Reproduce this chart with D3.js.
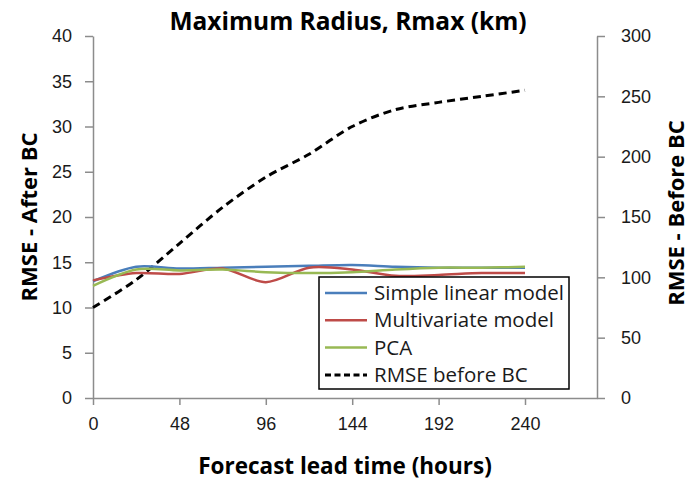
<!DOCTYPE html>
<html>
<head>
<meta charset="utf-8">
<script src="https://cdn.jsdelivr.net/npm/d3@7"></script>
<style>
  body { margin: 0; background: #fff; }
  svg { font-family: "Open Sans", "Noto Sans", sans-serif; }
</style>
</head>
<body>
<div id="chart"></div>
<script>
// lead times (hours) and RMSE values
const hours = [0, 24, 48, 72, 96, 120, 144, 168, 192, 216, 240];
const simpleLinear = [12.9, 14.5, 14.3, 14.4, 14.5, 14.6, 14.7, 14.5, 14.4, 14.4, 14.4];
const multivariate = [13.0, 13.8, 13.7, 14.3, 12.8, 14.4, 14.2, 13.5, 13.6, 13.8, 13.8];
const pca = [12.4, 14.2, 14.1, 14.2, 13.9, 13.8, 13.9, 14.2, 14.4, 14.4, 14.5];
const beforeBC = [75, 98, 128, 158, 183, 202, 225, 239, 245, 250, 255];

const xTicks = [0, 48, 96, 144, 192, 240];
const leftTicks = [0, 5, 10, 15, 20, 25, 30, 35, 40];
const rightTicks = [0, 50, 100, 150, 200, 250, 300];

const width = 692, height = 479;
const margin = { top: 36, right: 95, bottom: 81, left: 93 };
const innerWidth = width - margin.left - margin.right;
const innerHeight = height - margin.top - margin.bottom;

const svg = d3.select("#chart")
    .append("svg")
    .attr("width", width)
    .attr("height", height);

const g = svg.append("g")
    .attr("transform", `translate(${margin.left},${margin.top})`);

const x = d3.scaleLinear().domain([0, 280]).range([0, innerWidth]);
const yLeft = d3.scaleLinear().domain([0, 40]).range([innerHeight, 0]);
const yRight = d3.scaleLinear().domain([0, 300]).range([innerHeight, 0]);

// axes
const axisColor = "#8c8c8c";
const textColor = "#1a1a1a";

function styleAxis(sel) {
    sel.select(".domain").attr("stroke", axisColor).attr("stroke-width", 1.5);
    sel.selectAll(".tick line").attr("stroke", axisColor).attr("stroke-width", 1.5);
    sel.selectAll(".tick text")
        .style("font-size", "18px")
        .attr("fill", textColor);
}

g.append("g")
    .attr("transform", `translate(0,${innerHeight})`)
    .call(d3.axisBottom(x).tickValues(xTicks).tickSize(7).tickSizeOuter(0).tickPadding(12))
    .call(styleAxis);

g.append("g")
    .call(d3.axisLeft(yLeft).tickValues(leftTicks).tickSize(8).tickSizeOuter(0).tickPadding(13))
    .call(styleAxis);

g.append("g")
    .attr("transform", `translate(${innerWidth},0)`)
    .call(d3.axisRight(yRight).tickValues(rightTicks).tickSize(8).tickSizeOuter(0).tickPadding(16))
    .call(styleAxis);

// series
const series = [
    { name: "Simple linear model", values: simpleLinear, scale: yLeft, color: "#4a7ebb", dash: null, width: 2.5 },
    { name: "Multivariate model", values: multivariate, scale: yLeft, color: "#be4b48", dash: null, width: 2.5 },
    { name: "PCA", values: pca, scale: yLeft, color: "#98b954", dash: null, width: 2.5 },
    { name: "RMSE before BC", values: beforeBC, scale: yRight, color: "#000000", dash: "8,5", width: 3 }
];

const drawOrder = [series[3], series[0], series[1], series[2]];

drawOrder.forEach(s => {
    g.append("path")
        .datum(hours.map((h, i) => ({ h: h, v: s.values[i] })))
        .attr("fill", "none")
        .attr("stroke", s.color)
        .attr("stroke-width", s.width)
        .attr("stroke-dasharray", s.dash)
        .attr("d", d3.line()
            .curve(d3.curveCardinal.tension(0.1))
            .x(d => x(d.h))
            .y(d => s.scale(d.v))
        );
});

// legend
const legend = svg.append("g").attr("transform", "translate(319,277)");
legend.append("rect")
    .attr("width", 250)
    .attr("height", 112)
    .attr("fill", "#fff")
    .attr("stroke", "#000")
    .attr("stroke-width", 1.5);

series.forEach((s, i) => {
    const yy = 16 + i * 27.3;
    legend.append("line")
        .attr("x1", 6).attr("x2", 48)
        .attr("y1", yy).attr("y2", yy)
        .attr("stroke", s.color)
        .attr("stroke-width", s.width)
        .attr("stroke-dasharray", s.dash ? "6,3.5" : null);
    legend.append("text")
        .attr("x", 55)
        .attr("y", yy)
        .attr("dy", "0.35em")
        .style("font-size", "20.5px")
        .attr("fill", textColor)
        .text(s.name);
});

// titles
svg.append("text")
    .attr("x", 348)
    .attr("y", 30)
    .attr("text-anchor", "middle")
    .style("font-size", "24.5px")
    .style("font-weight", "bold")
    .attr("fill", "#000")
    .text("Maximum Radius, Rmax (km)");

svg.append("text")
    .attr("x", 345)
    .attr("y", 474)
    .attr("text-anchor", "middle")
    .style("font-size", "22.5px")
    .style("font-weight", "bold")
    .attr("fill", "#000")
    .text("Forecast lead time (hours)");

svg.append("text")
    .attr("transform", "translate(37,217) rotate(-90)")
    .attr("text-anchor", "middle")
    .style("font-size", "22px")
    .style("font-weight", "bold")
    .attr("fill", "#000")
    .text("RMSE - After BC");

svg.append("text")
    .attr("transform", "translate(684,213) rotate(-90)")
    .attr("text-anchor", "middle")
    .style("font-size", "22px")
    .style("font-weight", "bold")
    .attr("fill", "#000")
    .text("RMSE - Before BC");
</script>
</body>
</html>
